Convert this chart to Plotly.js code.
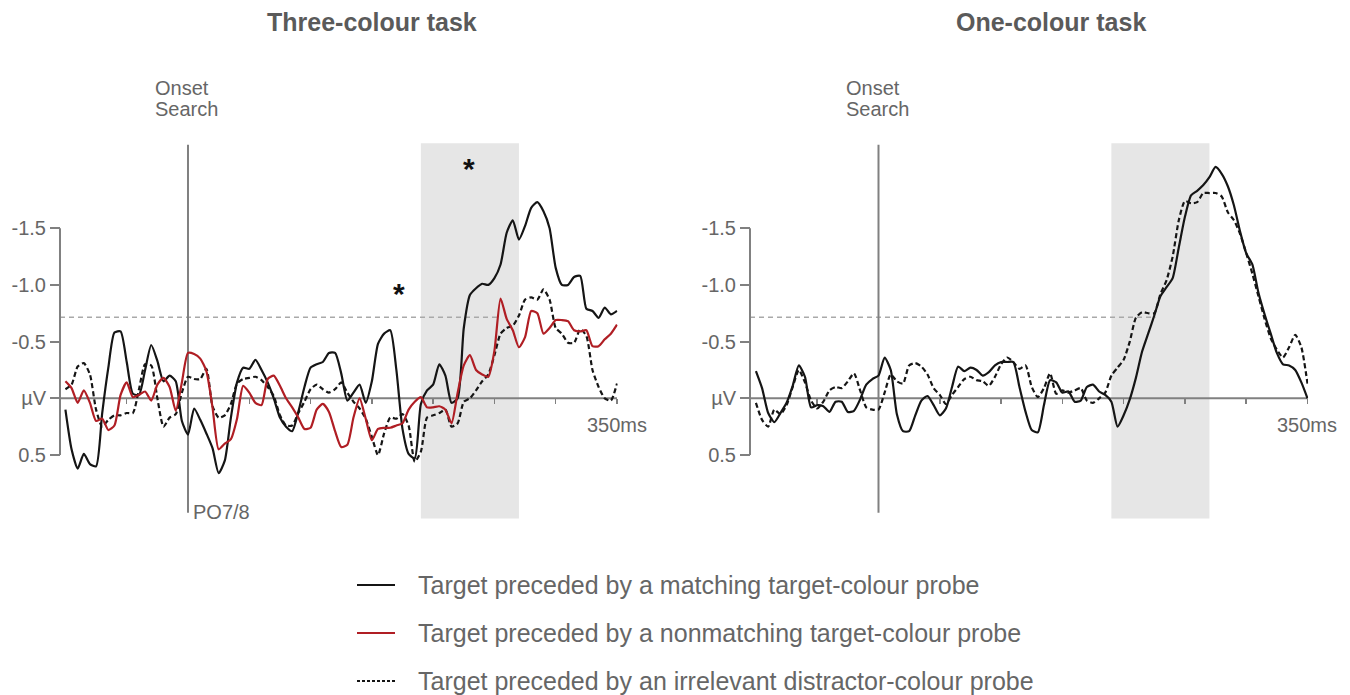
<!DOCTYPE html>
<html><head><meta charset="utf-8">
<script src="https://cdn.plot.ly/plotly-3.0.1.min.js"></script>
<style>html,body{margin:0;padding:0;background:#fff}</style>
</head><body><div id="chart" style="width:1350px;height:695px"></div>
<script>
// ---- data (µV; negative plotted upward) ----
const timeMs = [-100,-95,-90,-85,-80,-75,-70,-65,-60,-55,-50,-45,-40,-35,-30,-25,-20,-15,-10,-5,
  0,5,10,15,20,25,30,35,40,45,50,55,60,65,70,75,80,85,90,95,100,105,110,115,120,125,130,135,140,145,
  150,155,160,165,170,175,180,185,190,195,200,205,210,215,220,225,230,235,240,245,250,255,260,265,270,275,
  280,285,290,295,300,305,310,315,320,325,330,335,340,345,350];

const threeMatching = [0.10,0.45,0.62,0.49,0.58,0.60,0.13,-0.27,-0.58,-0.59,
  -0.32,-0.04,-0.03,-0.25,-0.47,-0.33,-0.15,-0.20,-0.15,0.20,
  0.32,0.09,0.19,0.31,0.44,0.66,0.55,0.17,-0.14,-0.27,
  -0.26,-0.34,-0.25,-0.14,0.00,0.17,0.25,0.29,0.12,-0.10,
  -0.27,-0.30,-0.32,-0.40,-0.40,-0.22,0.02,-0.05,-0.12,0.04,
  -0.15,-0.48,-0.57,-0.60,-0.25,0.27,0.49,0.53,0.05,-0.07,
  -0.12,-0.30,-0.20,0.04,0.00,-0.62,-0.91,-0.97,-1.01,-1.00,
  -1.06,-1.18,-1.46,-1.57,-1.40,-1.52,-1.68,-1.73,-1.65,-1.50,
  -1.15,-1.00,-1.00,-1.07,-1.08,-0.79,-0.77,-0.71,-0.80,-0.74,
  -0.77];

const threeNonmatching = [-0.15,-0.09,0.04,-0.07,0.04,0.20,0.18,0.28,0.24,-0.03,
  -0.14,-0.01,-0.03,-0.06,0.02,-0.12,-0.18,-0.10,0.11,-0.14,
  -0.40,-0.39,-0.35,-0.24,0.08,0.45,0.40,0.36,0.18,-0.11,
  -0.05,0.04,0.06,-0.17,-0.20,-0.11,0.00,0.08,0.17,0.27,
  0.26,0.10,0.05,0.12,0.29,0.43,0.41,0.17,0.00,0.18,
  0.37,0.27,0.26,0.26,0.24,0.22,0.10,0.03,-0.01,0.08,
  0.08,0.07,0.10,0.22,-0.05,-0.29,-0.38,-0.25,-0.21,-0.19,
  -0.42,-0.88,-0.70,-0.60,-0.45,-0.54,-0.77,-0.75,-0.57,-0.62,
  -0.69,-0.69,-0.68,-0.60,-0.59,-0.60,-0.46,-0.46,-0.52,-0.57,
  -0.65];

const threeIrrelevant = [-0.08,-0.12,-0.28,-0.31,-0.21,0.10,0.25,0.19,0.15,0.15,
  0.13,0.13,-0.08,-0.30,-0.29,0.00,0.25,0.17,0.14,-0.05,
  -0.19,-0.17,-0.17,-0.26,0.07,0.17,0.15,0.05,-0.13,-0.17,
  -0.18,-0.19,-0.16,-0.10,-0.02,0.15,0.24,0.24,0.13,0.03,
  -0.08,-0.12,-0.08,-0.05,-0.08,-0.14,-0.05,0.03,0.09,0.18,
  0.34,0.50,0.31,0.17,0.18,0.14,0.24,0.56,0.47,0.17,
  0.15,0.13,0.10,0.25,0.22,0.03,0.00,-0.07,-0.15,-0.21,
  -0.38,-0.57,-0.62,-0.64,-0.73,-0.87,-0.89,-0.87,-0.96,-0.87,
  -0.62,-0.57,-0.49,-0.49,-0.61,-0.55,-0.25,-0.10,0.00,0.02,
  -0.13];

const oneMatching = [-0.24,-0.09,0.13,0.21,0.13,0.04,-0.11,-0.29,-0.19,0.08,
  0.06,0.07,0.12,0.03,0.03,0.12,0.11,0.01,-0.12,-0.17,
  -0.20,-0.36,-0.25,0.14,0.29,0.29,0.15,0.02,-0.02,0.06,
  0.15,0.09,-0.10,-0.28,-0.24,-0.27,-0.25,-0.20,-0.23,-0.29,
  -0.32,-0.32,-0.32,-0.10,0.12,0.28,0.30,0.06,-0.16,-0.14,
  -0.05,-0.06,0.03,0.02,-0.10,-0.12,-0.06,-0.03,0.03,0.25,
  0.15,0.01,-0.18,-0.41,-0.57,-0.73,-0.90,-0.98,-1.06,-1.33,
  -1.60,-1.79,-1.83,-1.88,-1.95,-2.04,-1.98,-1.87,-1.70,-1.47,
  -1.28,-1.18,-0.93,-0.74,-0.57,-0.40,-0.30,-0.29,-0.25,-0.14,
  0.00];

const oneIrrelevant = [0.04,0.19,0.25,0.10,0.14,0.06,-0.10,-0.25,-0.14,0.02,
  0.09,0.03,-0.07,-0.10,-0.09,-0.15,-0.22,-0.07,0.08,0.10,
  0.10,-0.05,-0.21,-0.15,-0.13,-0.29,-0.31,-0.28,-0.21,-0.09,
  -0.03,0.05,-0.03,-0.10,-0.17,-0.19,-0.16,-0.15,-0.11,-0.19,
  -0.30,-0.36,-0.32,-0.26,-0.29,-0.10,-0.01,-0.09,-0.22,-0.04,
  -0.07,-0.05,-0.07,-0.09,0.02,0.04,0.00,-0.05,-0.20,-0.27,
  -0.34,-0.50,-0.71,-0.76,-0.75,-0.75,-0.92,-1.04,-1.25,-1.57,
  -1.74,-1.72,-1.73,-1.81,-1.81,-1.81,-1.78,-1.64,-1.57,-1.45,
  -1.28,-1.10,-0.90,-0.70,-0.53,-0.43,-0.36,-0.45,-0.56,-0.45,
  -0.13];

const yTickVals = [-1.5,-1.0,-0.5,0,0.5];
const yTickText = ['-1.5','-1.0','-0.5','µV','0.5'];
const xTickVals = [-50,0,50,100,150,200,250,300,350];
const panelTitles = ['Three-colour task','One-colour task'];
const legendLabels = ['Target preceded by a matching target-colour probe',
  'Target preceded by a nonmatching target-colour probe',
  'Target preceded by an irrelevant distractor-colour probe'];
const windowMs = [190, 270];
const thresholdUv = -0.714;

// ---- layout helpers ----
const W = 1350, H = 695;
const px = x => x / W, py = y => 1 - y / H;
const K = 1.2257;          // px per ms
const FONT = 'Liberation Sans, Arial, Helvetica, sans-serif';
const GREY = '#808080', TXT = '#666666', TITLE = '#5a5a5a';
const BLACK = '#151515', RED = '#b01e24';
const onsetPx = [188, 878.5];
const spinePx = [60, 750];
const dashEnd = [252, 226];
const yRange = [1.15, -2.3];
const yDom = [py(398.3 + 1.15 * 113.4), py(398.3 - 2.3 * 113.4)];

const common = {type:'scatter', mode:'lines', line:{shape:'spline', smoothing:0.6, width:2.2}, hoverinfo:'skip'};
const data = [
  Object.assign({}, common, {x:timeMs, y:threeMatching, xaxis:'x', yaxis:'y', line:Object.assign({}, common.line, {color:BLACK})}),
  Object.assign({}, common, {x:timeMs, y:threeIrrelevant, xaxis:'x', yaxis:'y', line:Object.assign({}, common.line, {color:BLACK, dash:'5px,3px'})}),
  Object.assign({}, common, {x:timeMs, y:threeNonmatching, xaxis:'x', yaxis:'y', line:Object.assign({}, common.line, {color:RED})}),
  Object.assign({}, common, {x:timeMs, y:oneIrrelevant, xaxis:'x2', yaxis:'y2', line:Object.assign({}, common.line, {color:BLACK, dash:'5px,3px'})}),
  Object.assign({}, common, {x:timeMs, y:oneMatching, xaxis:'x2', yaxis:'y2', line:Object.assign({}, common.line, {color:BLACK})})
];

const layout = {
  width: W, height: H, margin:{l:0,r:0,t:0,b:0},
  paper_bgcolor:'#ffffff', plot_bgcolor:'#ffffff', showlegend:false,
  font:{family:FONT, color:TXT, size:20},
  shapes: [], annotations: []
};

[0,1].forEach(i => {
  const sfx = i === 0 ? '' : '2';
  const xr = 'x' + sfx, yr = 'y' + sfx;
  const o = onsetPx[i];
  const spineT = (spinePx[i] - o) / K;
  layout['xaxis' + sfx] = {
    domain:[px(o - 106 * K), px(o + 350.5 * K)], range:[-106, 350.5],
    anchor:'free', position: py(398.3), side:'bottom',
    showline:false, showgrid:false, zeroline:false, showticklabels:false,
    tickmode:'array', tickvals:xTickVals, ticks:'outside', ticklen:5, tickwidth:1.5, tickcolor:GREY,
    fixedrange:true
  };
  layout['yaxis' + sfx] = {
    domain:yDom, range:yRange, anchor:'free', position:px(spinePx[i]), side:'left',
    showline:false, showgrid:false, zeroline:false,
    tickmode:'array', tickvals:yTickVals, ticktext:yTickText,
    ticks:'outside', ticklen:10, tickwidth:2, tickcolor:GREY,
    tickfont:{family:FONT, size:20, color:TXT}, fixedrange:true
  };
  const S = layout.shapes;
  S.push({type:'rect', xref:xr, yref:yr, x0:windowMs[0], x1:windowMs[1], y0:-2.25, y1:1.06,
          fillcolor:'#e6e6e6', line:{width:0}, layer:'below'});
  S.push({type:'line', xref:xr, yref:yr, x0:spineT, x1:dashEnd[i], y0:thresholdUv, y1:thresholdUv,
          line:{color:'#a9a9a9', width:1.5, dash:'5px,4px'}, layer:'below'});
  S.push({type:'line', xref:xr, yref:yr, x0:spineT, x1:350, y0:0, y1:0,
          line:{color:GREY, width:2}, layer:'below'});
  S.push({type:'line', xref:xr, yref:yr, x0:0, x1:0, y0:-2.235, y1:1.01,
          line:{color:GREY, width:2}, layer:'below'});
  S.push({type:'line', xref:xr, yref:yr, x0:spineT, x1:spineT, y0:-1.5, y1:0.5,
          line:{color:GREY, width:2}, layer:'below'});

  const A = layout.annotations;
  A.push({xref:'paper', yref:'paper', x:px(i === 0 ? 372 : 1051), y:py(22), xanchor:'center', yanchor:'middle',
          text:'<b>' + panelTitles[i] + '</b>', showarrow:false, font:{family:FONT, size:25, color:TITLE}});
  A.push({xref:'paper', yref:'paper', x:px(o - 35), y:py(88), xanchor:'left', yanchor:'middle',
          text:'Onset', showarrow:false, font:{family:FONT, size:20, color:TXT}});
  A.push({xref:'paper', yref:'paper', x:px(o - 35), y:py(109), xanchor:'left', yanchor:'middle',
          text:'Search', showarrow:false, font:{family:FONT, size:20, color:TXT}});
  A.push({xref:xr, yref:'paper', x:350, y:py(425), xanchor:'center', yanchor:'middle',
          text:'350ms', showarrow:false, font:{family:FONT, size:20, color:TXT}});
});

layout.annotations.push({xref:'paper', yref:'paper', x:px(191), y:py(512), xanchor:'left', yanchor:'middle',
  text:'PO7/8', showarrow:false, font:{family:FONT, size:20, color:TXT}});
layout.annotations.push({xref:'x', yref:'y', x:172, y:-0.92, xanchor:'center', yanchor:'middle',
  text:'<b>*</b>', showarrow:false, font:{family:FONT, size:30, color:'#111'}});
layout.annotations.push({xref:'x', yref:'y', x:229, y:-2.03, xanchor:'center', yanchor:'middle',
  text:'<b>*</b>', showarrow:false, font:{family:FONT, size:30, color:'#111'}});

// manual legend
const legendStyles = [{color:BLACK}, {color:RED}, {color:BLACK, dash:'3px,2px'}];
const legendY = [585, 633, 681];
legendLabels.forEach((lab, j) => {
  layout.shapes.push({type:'line', xref:'paper', yref:'paper', x0:px(357), x1:px(395), y0:py(legendY[j]), y1:py(legendY[j]),
    line:Object.assign({width:2}, legendStyles[j])});
  layout.annotations.push({xref:'paper', yref:'paper', x:px(416), y:py(legendY[j]), xanchor:'left', yanchor:'middle',
    text:lab, showarrow:false, font:{family:FONT, size:25, color:TXT}});
});

Plotly.newPlot('chart', data, layout, {displayModeBar:false, staticPlot:true});
</script>
</body></html>
